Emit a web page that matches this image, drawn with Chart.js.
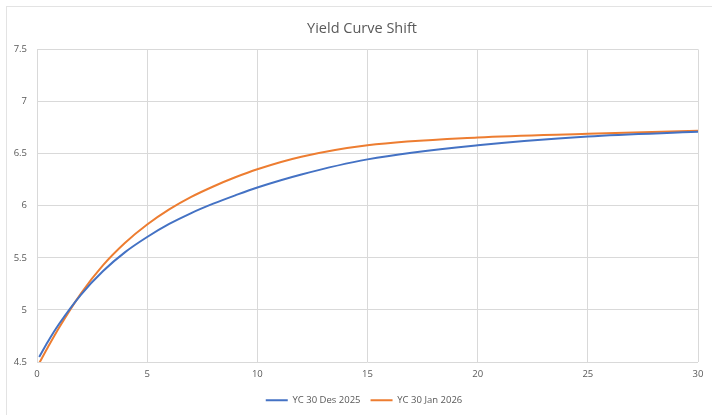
<!DOCTYPE html>
<html>
<head>
<meta charset="utf-8">
<script src="https://cdn.jsdelivr.net/npm/chart.js@4/dist/chart.umd.min.js"></script>
<style>
  html, body { margin: 0; padding: 0; background: #fff; }
  #wrap { position: relative; width: 712px; height: 415px; overflow: hidden; }
  #frame { position: absolute; left: 6px; top: 6px; width: 800px; height: 500px;
           border-left: 1px solid #e3e3e3; border-top: 1px solid #e3e3e3; }
  canvas { position: absolute; left: 0; top: 0; }
</style>
</head>
<body>
<div id="wrap">
  <div id="frame"></div>
  <canvas id="chart" width="712" height="415"></canvas>
</div>
<script>
// tenor (tahun) dan yield kedua kurva
const tenor = [0.1, 0.5, 1, 2, 3, 4, 5, 6, 7, 8, 9, 10, 12, 15, 20, 25, 30];
const ycDes2025 = [4.55, 4.698, 4.865, 5.148, 5.374, 5.555, 5.70, 5.825, 5.93, 6.02, 6.10, 6.175, 6.30, 6.445, 6.58, 6.665, 6.71];
const ycJan2026 = [4.49, 4.645, 4.83, 5.16, 5.43, 5.645, 5.82, 5.965, 6.085, 6.185, 6.273, 6.35, 6.47, 6.58, 6.655, 6.69, 6.72];

const xTicks = [0, 5, 10, 15, 20, 25, 30];
const yTicks = [4.5, 5, 5.5, 6, 6.5, 7, 7.5];

const toPoints = ys => tenor.map((t, i) => ({ x: t, y: ys[i] }));

const FONT = "'Open Sans', 'Liberation Sans', sans-serif";
const TXT = "#595959";
const GRID = "#d9d9d9";

// judul & legenda di Excel agak bergeser ke kanan
const shiftBoxes = {
  id: "shiftBoxes",
  afterUpdate(chart) {
    if (chart.titleBlock) { chart.titleBlock.left += 13; chart.titleBlock.right += 13; }
    if (chart.legend) { chart.legend.left += 15; chart.legend.right += 15; }
  }
};

new Chart(document.getElementById("chart").getContext("2d"), {
  type: "line",
  data: {
    datasets: [
      {
        label: "YC 30 Des 2025",
        data: toPoints(ycDes2025),
        borderColor: "#4472c4",
        backgroundColor: "#4472c4",
        borderWidth: 2,
        pointRadius: 0,
        cubicInterpolationMode: "monotone"
      },
      {
        label: "YC 30 Jan 2026",
        data: toPoints(ycJan2026),
        borderColor: "#ed7d31",
        backgroundColor: "#ed7d31",
        borderWidth: 2,
        pointRadius: 0,
        cubicInterpolationMode: "monotone"
      }
    ]
  },
  plugins: [shiftBoxes],
  options: {
    responsive: false,
    animation: false,
    layout: { padding: { left: 0, right: 14, top: 0, bottom: 0 } },
    plugins: {
      title: {
        display: true,
        text: "Yield Curve Shift",
        color: TXT,
        font: { family: FONT, size: 14.5, weight: "normal" },
        padding: { top: 20, bottom: 12 }
      },
      legend: {
        position: "bottom",
        labels: {
          color: TXT,
          font: { family: FONT, size: 9.5 },
          usePointStyle: true,
          pointStyle: "line",
          pointStyleWidth: 22,
          padding: 10
        }
      },
      tooltip: { enabled: false }
    },
    scales: {
      x: {
        type: "linear",
        min: 0,
        max: 30,
        afterBuildTicks: axis => { axis.ticks = xTicks.map(v => ({ value: v })); },
        ticks: { color: TXT, font: { family: FONT, size: 9.5 }, padding: 6, maxRotation: 0,
                 callback: v => String(v) },
        grid: { color: GRID, drawTicks: false },
        border: { display: false }
      },
      y: {
        min: 4.5,
        max: 7.5,
        afterBuildTicks: axis => { axis.ticks = yTicks.map(v => ({ value: v })); },
        afterFit: axis => { axis.width = 37; },
        ticks: { color: TXT, font: { family: FONT, size: 9.5 }, padding: 10,
                 callback: v => String(v) },
        grid: { color: GRID, drawTicks: false },
        border: { display: false }
      }
    }
  }
});
</script>
</body>
</html>
